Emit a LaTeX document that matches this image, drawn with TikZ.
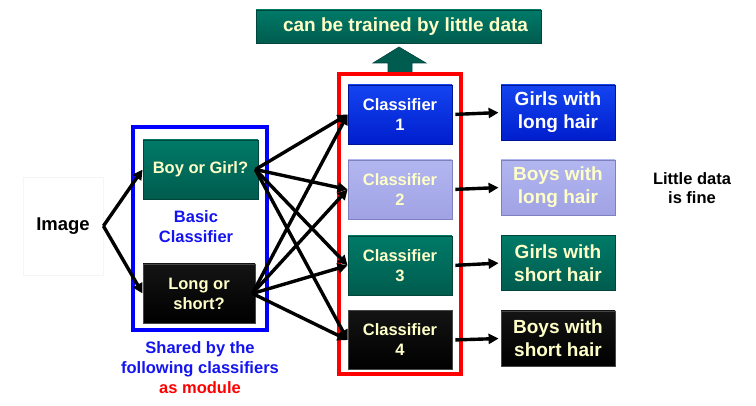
\documentclass[tikz,border=0pt]{standalone}
\usepackage{fontspec}
\setmainfont{Liberation Sans}
\usetikzlibrary{arrows.meta}
\definecolor{cream}{RGB}{255,255,200}
\definecolor{tealtop}{RGB}{0,122,104}
\definecolor{tealbot}{RGB}{0,92,78}
\definecolor{tealdraw}{RGB}{0,70,60}
\definecolor{bluetop}{RGB}{20,68,240}
\definecolor{bluebot}{RGB}{0,30,205}
\definecolor{bluedraw}{RGB}{0,20,150}
\definecolor{lavtop}{RGB}{178,182,240}
\definecolor{lavbot}{RGB}{160,162,228}
\definecolor{lavdraw}{RGB}{128,128,190}
\definecolor{blktop}{RGB}{20,20,20}
\definecolor{blkbot}{RGB}{0,0,0}
\definecolor{blkdraw}{RGB}{70,70,70}
\definecolor{txtblue}{RGB}{20,20,240}
\tikzset{
  box/.style={draw, line width=0.8pt, inner sep=0pt, align=center, text=cream,
    font=\bfseries\fontsize{16.5}{20}\selectfont},
  bigtext/.style={font=\bfseries\fontsize{19}{23}\selectfont},
  tealbox/.style={box, draw=tealdraw, top color=tealtop, bottom color=tealbot},
  bluebox/.style={box, draw=bluedraw, top color=bluetop, bottom color=bluebot, text=white},
  lavbox/.style={box, draw=lavdraw, top color=lavtop, bottom color=lavbot},
  blkbox/.style={box, draw=blkdraw, top color=blktop, bottom color=blkbot},
  clsbox/.style={minimum width=104pt, minimum height=59pt},
  outbox/.style={minimum width=114pt, minimum height=55pt, bigtext},
  conn/.style={-{Triangle[length=10pt,width=10pt]}, line width=3.4pt, black},
  plain/.style={align=center, font=\bfseries\fontsize{16.5}{20}\selectfont},
  frame/.style={line width=3.2pt}
}
\begin{document}
\begin{tikzpicture}[x=1pt,y=-1pt]
\useasboundingbox (0,0) rectangle (756,406);

% title and up arrow
\node[tealbox, bigtext, minimum width=285pt, minimum height=33pt] (title) at (398.5,26.5) {\hspace{14pt}can be trained by little data};
\draw[fill=tealbot, draw=tealdraw, line width=0.6pt]
  (388,75) -- (388,63) -- (373,63) -- (399,47) -- (426,63) -- (412,63) -- (412,75);

% frames
\draw[frame, red] (339,74) rectangle (461,374);
\draw[frame, blue] (133,127) rectangle (267,330);

% left part
\node[draw=black!4, line width=0.8pt, minimum width=80pt, minimum height=98pt,
  font=\bfseries\fontsize{18.5}{22}\selectfont] (img) at (63,226) {Image};
\node[tealbox, minimum width=115pt, minimum height=59pt] (boy) at (200.5,169.5) {Boy or Girl?};
\node[blkbox, minimum width=112pt, minimum height=59pt] (long) at (199,293.5) {Long or\\short?};
\node[plain, text=txtblue] (basic) at (196,227) {Basic\\Classifier};
\node[plain, text=txtblue] (shared) at (200,368) {Shared by the\\following classifiers\\\textcolor{red}{as module}};

% classifiers
\node[bluebox, clsbox] (c1) at (400,114.5) {Classifier\\1};
\node[lavbox, clsbox] (c2) at (400,189.5) {Classifier\\2};
\node[tealbox, clsbox] (c3) at (400,265.5) {Classifier\\3};
\node[blkbox, clsbox] (c4) at (400,340) {Classifier\\4};

% outputs
\node[bluebox, outbox] (o1) at (558,112.5) {Girls with\\long hair};
\node[lavbox, outbox] (o2) at (558,187.5) {Boys with\\long hair};
\node[tealbox, outbox] (o3) at (558,263) {Girls with\\short hair};
\node[blkbox, outbox] (o4) at (558,338.5) {Boys with\\short hair};

\node[plain, font=\bfseries\fontsize{16.5}{19}\selectfont] (little) at (692,188.5) {Little data\\is fine};

% connectors
\draw[conn] (img.east) -- (boy.west);
\draw[conn] (img.east) -- (long.west);
\foreach \c in {c1,c2,c3,c4}{
  \draw[conn] ([xshift=-3pt]boy.east) -- (\c.west);
  \draw[conn] ([xshift=-3pt]long.east) -- (\c.west);
}
\foreach \i in {1,2,3,4}{
  \draw[conn, shorten <=3pt, shorten >=2pt] (c\i.east) -- (o\i.west);
}
\end{tikzpicture}
\end{document}
